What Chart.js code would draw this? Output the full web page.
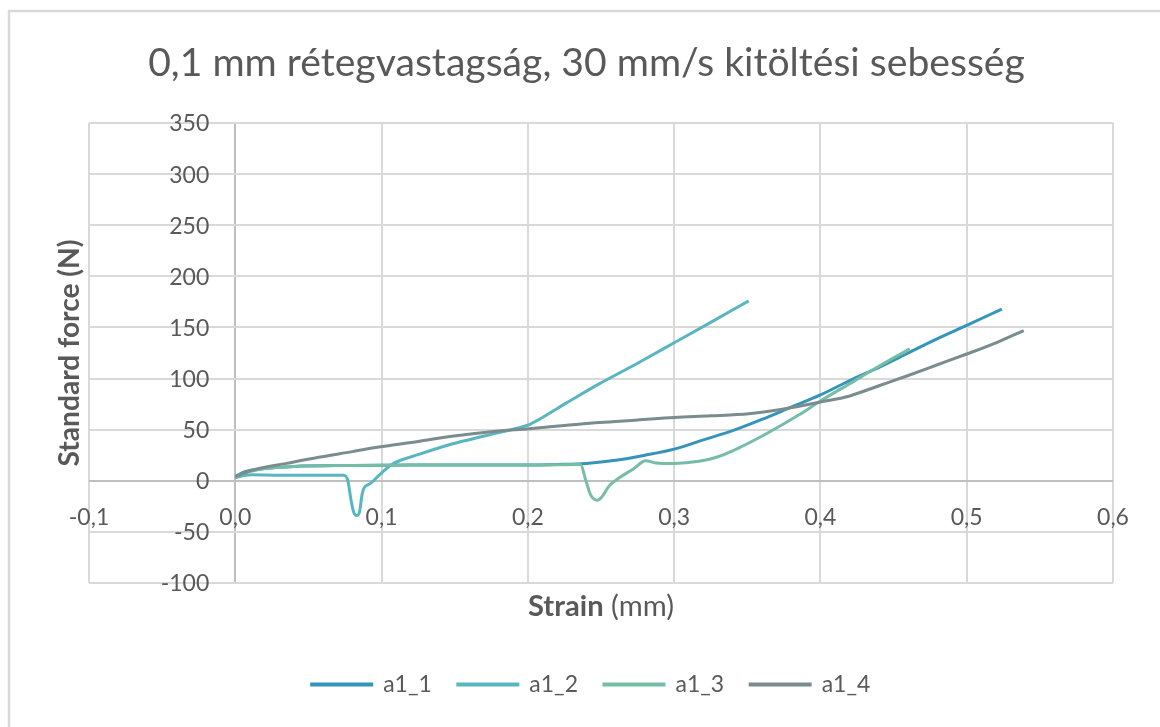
<!DOCTYPE html>
<html>
<head>
<meta charset="utf-8">
<script src="https://cdn.jsdelivr.net/npm/chart.js@4.4.1/dist/chart.umd.min.js"></script>
<style>
  html, body { margin: 0; padding: 0; background: #ffffff; }
  #wrap { width: 1160px; height: 727px; position: relative; }
</style>
</head>
<body>
<div id="wrap"><canvas id="c" width="1160" height="727"></canvas></div>
<script>
// ---------- data ----------
const chartTitle = '0,1 mm rétegvastagság, 30 mm/s kitöltési sebesség';
const xAxisTitleBold = 'Strain';
const xAxisTitleRest = ' (mm)';
const yAxisTitle = 'Standard force (N)';
const seriesNames = ['a1_1', 'a1_2', 'a1_3', 'a1_4'];
const xTickValues = [-0.1, 0.0, 0.1, 0.2, 0.3, 0.4, 0.5, 0.6];
const yTickValues = [-100, -50, 0, 50, 100, 150, 200, 250, 300, 350];

const strainA11 = [0, 0.005, 0.01, 0.02, 0.04, 0.08, 0.12, 0.16, 0.2, 0.22, 0.24, 0.26, 0.28, 0.3, 0.32, 0.34, 0.36, 0.38, 0.4, 0.42, 0.44, 0.46, 0.48, 0.5, 0.524];
const forceA11  = [4, 8, 10, 12, 14, 15, 15.5, 15.5, 15.5, 16, 17, 20, 25, 31, 40, 49, 60, 72, 84, 98, 111, 125, 139, 152, 168];

const strainA12 = [0, 0.005, 0.012, 0.03, 0.05, 0.074, 0.077, 0.079, 0.081, 0.083, 0.085, 0.0865, 0.088, 0.092, 0.098, 0.107, 0.126, 0.148, 0.171, 0.194, 0.201, 0.225, 0.249, 0.275, 0.3, 0.325, 0.351];
const forceA12  = [3, 5, 6, 5.5, 5.5, 5.5, 0, -18, -31, -34, -30, -15, -7, -3, 5, 16, 26, 36, 44, 52, 55, 75, 95, 115, 135, 155, 176];

const strainA13 = [0, 0.005, 0.01, 0.02, 0.04, 0.08, 0.12, 0.16, 0.2, 0.236, 0.2397, 0.243, 0.2477, 0.251, 0.2556, 0.2625, 0.2716, 0.2807, 0.2875, 0.3, 0.317, 0.329, 0.344, 0.363, 0.386, 0.4, 0.42, 0.44, 0.461];
const forceA13  = [4, 7, 9, 12, 14, 15, 15.5, 15.5, 15.5, 16, 0, -14, -19, -15, -5, 3, 11, 19.5, 17.5, 17, 19, 23, 32, 46, 65, 78, 95, 112, 129];

const strainA14 = [0, 0.005, 0.012, 0.035, 0.057, 0.08, 0.098, 0.125, 0.148, 0.175, 0.201, 0.225, 0.249, 0.275, 0.3, 0.325, 0.351, 0.374, 0.4, 0.42, 0.44, 0.46, 0.48, 0.5, 0.52, 0.539];
const forceA14  = [4, 7, 10.5, 17, 23, 28.5, 33, 38.5, 43.5, 48, 51, 54, 57, 59.5, 62, 63.5, 65.5, 70, 77, 83, 93, 103, 113.5, 124, 135, 147];

const seriesColors = ['#3494BA', '#58B6C0', '#75BDA7', '#7A8C8E'];

// ---------- helpers ----------
const toPoints = (xs, ys) => xs.map((x, i) => ({ x: x, y: ys[i] }));
const allStrain = [strainA11, strainA12, strainA13, strainA14];
const allForce = [forceA11, forceA12, forceA13, forceA14];

const TEXT_COLOR = '#595959';
const FONT = 'Lato, "Open Sans", "DejaVu Sans", sans-serif';
const fmtX = v => (Math.abs(v) < 1e-9 ? 0 : v).toFixed(1).replace('.', ',');

const datasets = seriesNames.map((name, i) => ({
  label: name,
  data: toPoints(allStrain[i], allForce[i]),
  borderColor: seriesColors[i],
  backgroundColor: seriesColors[i],
  borderWidth: 3,
  showLine: true,
  pointRadius: 0,
  pointHoverRadius: 0,
  cubicInterpolationMode: 'monotone',
  order: seriesNames.length - i
}));

function fitSize(ctx, weight, text, target, base) {
  ctx.font = `${weight} ${base}px ${FONT}`;
  return base * target / ctx.measureText(text).width;
}

const decorPlugin = {
  id: 'decor',
  beforeDraw(chart) {
    const ctx = chart.ctx;
    ctx.save();
    ctx.strokeStyle = '#d9d9d9';
    ctx.lineWidth = 2.5;
    ctx.strokeRect(9, 11, chart.width + 40, chart.height + 40);
    ctx.restore();
  },
  afterDraw(chart) {
    const ctx = chart.ctx;
    const xs = chart.scales.x, ys = chart.scales.y;
    const area = chart.chartArea;
    const zeroX = xs.getPixelForValue(0);
    const zeroY = ys.getPixelForValue(0);
    ctx.save();
    ctx.fillStyle = TEXT_COLOR;

    // chart title, fitted to the reference width
    const tSize = fitSize(ctx, 400, chartTitle, chart.width * 0.756, 35);
    ctx.font = `400 ${tSize}px ${FONT}`;
    ctx.textAlign = 'center';
    ctx.textBaseline = 'alphabetic';
    ctx.fillText(chartTitle, chart.width * 0.5056, 76);

    // y tick labels next to the x=0 axis
    ctx.font = `400 23px ${FONT}`;
    ctx.textAlign = 'right';
    ctx.textBaseline = 'middle';
    ys.ticks.forEach(t => {
      ctx.fillText(String(t.value), zeroX - 26, ys.getPixelForValue(t.value) + 1);
    });

    // x tick labels below the y=0 axis
    ctx.textAlign = 'center';
    xs.ticks.forEach(t => {
      ctx.fillText(fmtX(t.value), xs.getPixelForValue(t.value), zeroY + 37);
    });

    // x axis title: bold + regular
    const base = 22;
    ctx.font = `700 ${base}px ${FONT}`;
    let wb = ctx.measureText(xAxisTitleBold).width;
    ctx.font = `400 ${base}px ${FONT}`;
    let wr = ctx.measureText(xAxisTitleRest).width;
    const xSize = base * 146 / (wb + wr);
    wb *= xSize / base; wr *= xSize / base;
    const cx = (area.left + area.right) / 2;
    const sx = cx - (wb + wr) / 2;
    ctx.textAlign = 'left';
    ctx.font = `700 ${xSize}px ${FONT}`;
    ctx.fillText(xAxisTitleBold, sx, area.bottom + 24);
    ctx.font = `400 ${xSize}px ${FONT}`;
    ctx.fillText(xAxisTitleRest, sx + wb, area.bottom + 24);

    // y axis title, rotated
    const ySize = fitSize(ctx, 700, yAxisTitle, 227, 23);
    ctx.translate(70, (area.top + area.bottom) / 2);
    ctx.rotate(-Math.PI / 2);
    ctx.textAlign = 'center';
    ctx.font = `700 ${ySize}px ${FONT}`;
    ctx.fillText(yAxisTitle, 0, 0);
    ctx.restore();
  }
};

const gridColor = c => (c.tick && c.tick.value === 0 ? '#bfbfbf' : '#d9d9d9');

new Chart(document.getElementById('c'), {
  type: 'scatter',
  data: { datasets: datasets },
  options: {
    responsive: false,
    animation: false,
    events: [],
    layout: { padding: { left: 69, right: 47, top: 123, bottom: 21 } },
    scales: {
      x: {
        type: 'linear',
        min: xTickValues[0],
        max: xTickValues[xTickValues.length - 1],
        afterBuildTicks: s => { s.ticks = xTickValues.map(v => ({ value: v })); },
        afterFit: s => { s.height = 64; },
        ticks: { display: false },
        grid: { color: gridColor, lineWidth: 2, drawTicks: false },
        border: { display: false }
      },
      y: {
        type: 'linear',
        min: yTickValues[0],
        max: yTickValues[yTickValues.length - 1],
        afterBuildTicks: s => { s.ticks = yTickValues.map(v => ({ value: v })); },
        afterFit: s => { s.width = 20; },
        ticks: { display: false },
        grid: { color: gridColor, lineWidth: 2, drawTicks: false },
        border: { display: false }
      }
    },
    plugins: {
      title: { display: false },
      tooltip: { enabled: false },
      legend: {
        display: true,
        position: 'bottom',
        labels: {
          boxWidth: 60,
          boxHeight: 1,
          padding: 26,
          color: TEXT_COLOR,
          font: { family: FONT, size: 23 },
          sort: (a, b) => a.datasetIndex - b.datasetIndex
        }
      }
    }
  },
  plugins: [decorPlugin]
});
</script>
</body>
</html>
